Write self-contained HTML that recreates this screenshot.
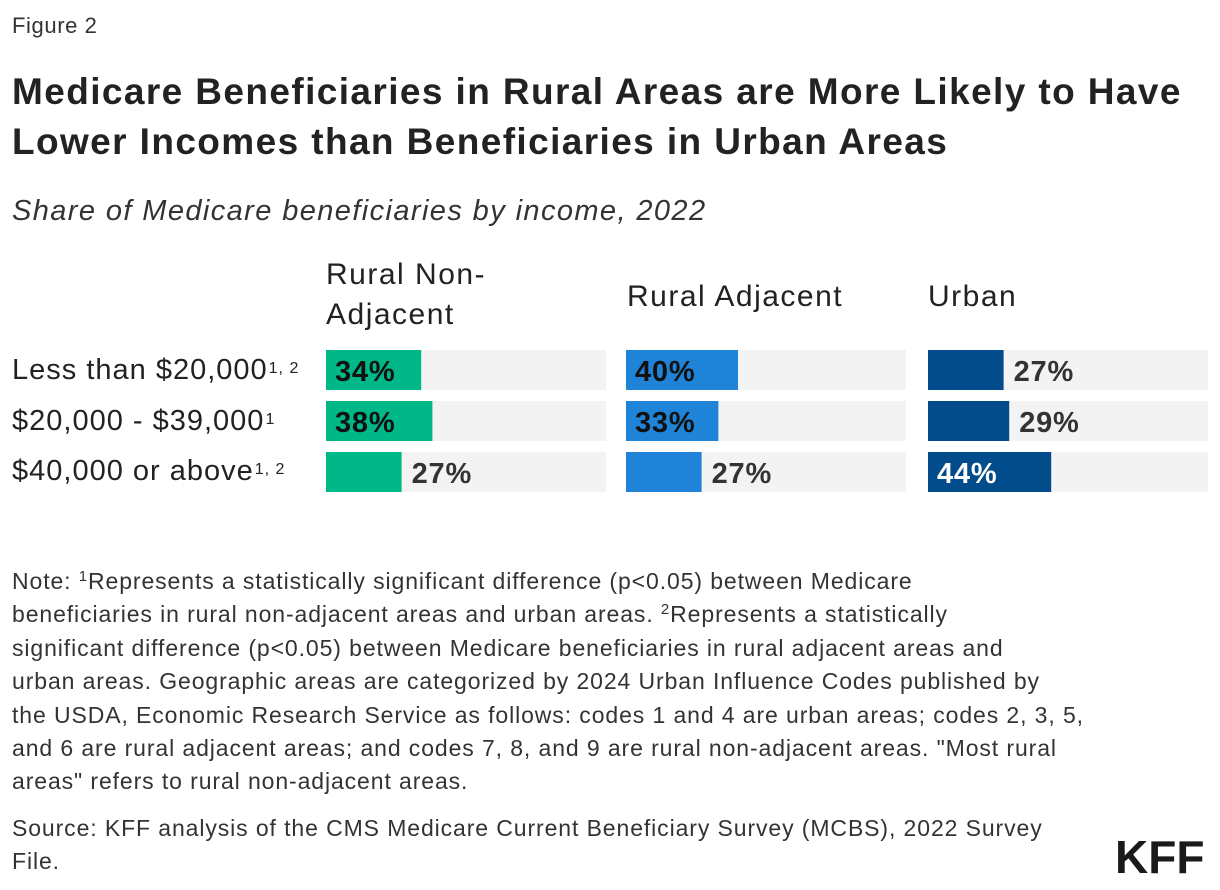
<!DOCTYPE html>
<html><head><meta charset="utf-8">
<style>
body{margin:0;width:1220px;height:890px;background:#fff;font-family:"Liberation Sans",sans-serif;color:#333;position:relative;overflow:hidden}
.abs{position:absolute;white-space:nowrap}
#fig{left:12px;top:13px;font-size:22px;letter-spacing:0.6px;color:#333}
.title{left:12px;font-size:37px;font-weight:bold;color:#222;letter-spacing:1.4px}
#sub{left:12px;top:195px;font-size:29px;font-style:italic;color:#333;letter-spacing:1.4px}
.colh{font-size:30px;color:#222;line-height:40px;letter-spacing:1.5px}
.rowl{left:12px;font-size:29px;color:#222;letter-spacing:1px}
.rowl sup{font-size:16px;vertical-align:6px;margin-left:1px;line-height:0}
.note{left:12px;font-size:23px;color:#333;line-height:33.4px;letter-spacing:0.9px}
.note sup{font-size:15px;line-height:0;vertical-align:8px}
#kff{left:1115px;top:830px;font-size:46px;font-weight:bold;color:#1a1a1a;letter-spacing:0px}
</style></head>
<body>
<div class="abs" id="fig">Figure 2</div>
<div class="abs title" style="top:71px">Medicare Beneficiaries in Rural Areas are More Likely to Have</div>
<div class="abs title" style="top:121px">Lower Incomes than Beneficiaries in Urban Areas</div>
<div class="abs" id="sub">Share of Medicare beneficiaries by income, 2022</div>
<div class="abs colh" style="left:326px;top:255px">Rural Non-<br>Adjacent</div>
<div class="abs colh" style="left:627px;top:277px">Rural Adjacent</div>
<div class="abs colh" style="left:928px;top:277px">Urban</div>
<div class="abs rowl" style="top:354px">Less than $20,000<sup>1, 2</sup></div>
<div class="abs rowl" style="top:405px">$20,000 - $39,000<sup>1</sup></div>
<div class="abs rowl" style="top:455px">$40,000 or above<sup>1, 2</sup></div>
<svg id="chart" class="abs" style="left:0;top:0" width="1220" height="520"></svg>
<div class="abs note" style="top:565px">Note: <sup>1</sup>Represents a statistically significant difference (p&lt;0.05) between Medicare<br>beneficiaries in rural non-adjacent areas and urban areas. <sup>2</sup>Represents a statistically<br>significant difference (p&lt;0.05) between Medicare beneficiaries in rural adjacent areas and<br>urban areas. Geographic areas are categorized by 2024 Urban Influence Codes published by<br>the USDA, Economic Research Service as follows: codes 1 and 4 are urban areas; codes 2, 3, 5,<br>and 6 are rural adjacent areas; and codes 7, 8, and 9 are rural non-adjacent areas. "Most rural<br>areas" refers to rural non-adjacent areas.</div>
<div class="abs note" style="top:812px">Source: KFF analysis of the CMS Medicare Current Beneficiary Survey (MCBS), 2022 Survey<br>File.</div>
<div class="abs" id="kff">KFF</div>
<script>
const categories = ["Less than $20,000","$20,000 - $39,000","$40,000 or above"];
const seriesNames = ["Rural Non-Adjacent","Rural Adjacent","Urban"];
const ruralNonAdjacent = [34,38,27];
const ruralAdjacent = [40,33,27];
const urban = [27,29,44];
const series = [ruralNonAdjacent, ruralAdjacent, urban];
const colors = ["#00b787","#1f83d8","#034c8c"];
const insideText = ["#111","#111","#fff"];
const panelX = [326,626,928], panelW = 280;
const rowY = [350,401,452], rowH = 40;
const NS = "http://www.w3.org/2000/svg";
const svg = document.getElementById('chart');
function xScale(v){ return v/100*panelW; }
series.forEach((vals, s) => {
  vals.forEach((v, i) => {
    const bg = document.createElementNS(NS,'rect');
    bg.setAttribute('x',panelX[s]); bg.setAttribute('y',rowY[i]);
    bg.setAttribute('width',panelW); bg.setAttribute('height',rowH);
    bg.setAttribute('fill','#f3f3f3');
    
    
    svg.appendChild(bg);
    const w = xScale(v);
    const r = document.createElementNS(NS,'rect');
    r.setAttribute('x',panelX[s]); r.setAttribute('y',rowY[i]);
    r.setAttribute('width',w); r.setAttribute('height',rowH);
    r.setAttribute('fill',colors[s]);
    
    
    svg.appendChild(r);
    const t = document.createElementNS(NS,'text');
    const inside = w >= 90;
    t.setAttribute('x', inside ? panelX[s]+9 : panelX[s]+w+10);
    t.setAttribute('y', rowY[i]+31);
    t.setAttribute('font-size','29');
    t.setAttribute('font-weight','bold');
    t.setAttribute('letter-spacing','0.8');
    t.setAttribute('font-family','Liberation Sans, sans-serif');
    t.setAttribute('fill', inside ? insideText[s] : '#333');
    t.textContent = v + '%';
    
    
    svg.appendChild(t);
  });
});
</script>
</body></html>
